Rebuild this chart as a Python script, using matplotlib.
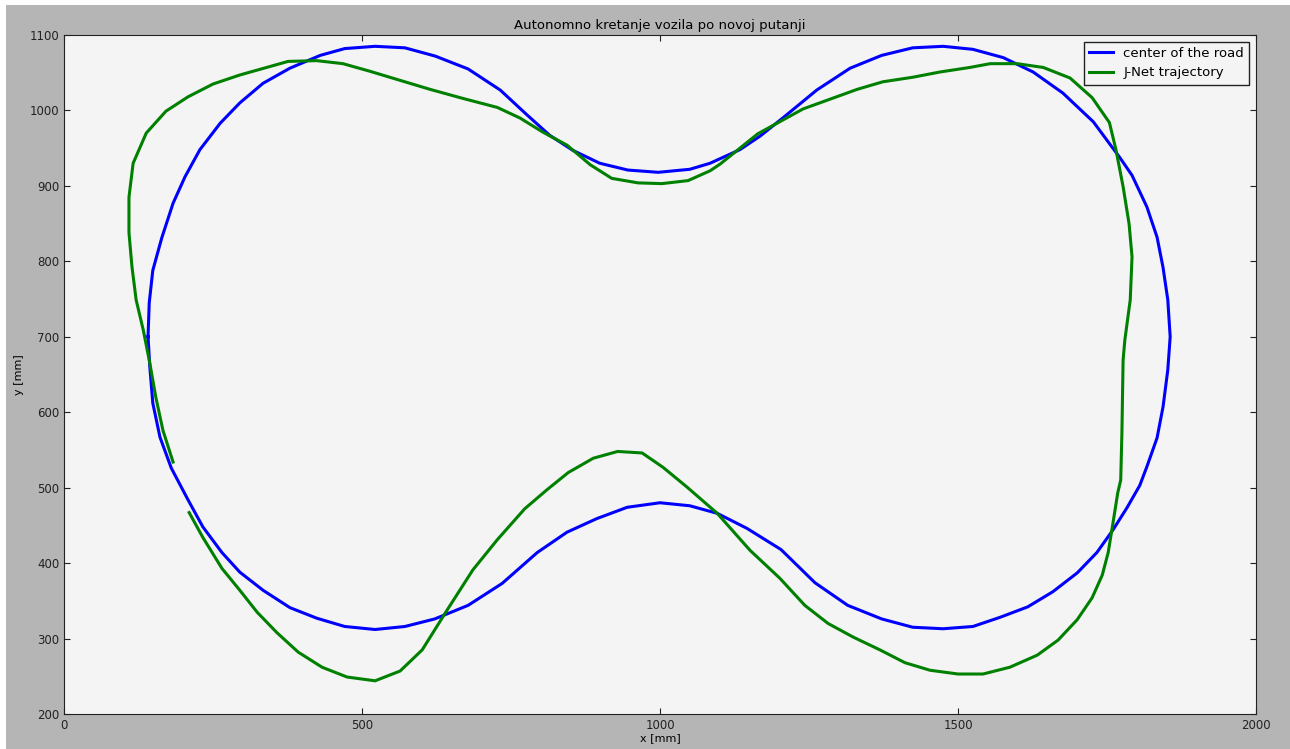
import matplotlib
matplotlib.use('Agg')
import matplotlib.pyplot as plt
from matplotlib.patches import Rectangle

# center of the road (closed loop), mm
road_x = [141, 143, 149, 164, 183, 203, 228, 262, 295, 334, 379, 430, 471, 522, 572, 623,
          678, 732, 777, 815, 854, 899, 946, 997, 1050, 1084, 1134, 1168, 1206, 1263, 1319,
          1372, 1424, 1475, 1525, 1576, 1626, 1676, 1727, 1772, 1792, 1817, 1834, 1844, 1852,
          1856, 1852, 1844, 1834, 1817, 1805, 1784, 1760, 1733, 1700, 1659, 1617, 1570, 1525,
          1475, 1424, 1372, 1315, 1260, 1203, 1146, 1096, 1050, 1000, 945, 894, 844, 794, 735,
          678, 622, 572, 522, 471, 424, 379, 334, 295, 265, 233, 208, 180, 161, 149, 144, 141]
road_y = [700, 745, 788, 831, 877, 912, 948, 983, 1010, 1036, 1056, 1073, 1082, 1085, 1083, 1072,
          1055, 1027, 994, 967, 947, 930, 921, 918, 922, 930, 948, 966, 990, 1027, 1056,
          1073, 1083, 1085, 1081, 1070, 1051, 1023, 985, 937, 914, 872, 832, 792, 749,
          700, 656, 607, 566, 528, 503, 474, 444, 414, 387, 362, 342, 328, 316,
          313, 315, 326, 344, 374, 418, 446, 466, 476, 480, 474, 459, 441, 414, 373,
          344, 326, 316, 312, 316, 327, 341, 364, 388, 414, 448, 484, 526, 567, 612, 660, 700]

# J-Net trajectory, mm
jnet_x = [210, 233, 265, 295, 324, 357, 393, 433, 475, 522, 564, 601, 643, 686, 727, 773, 810,
          846, 888, 929, 970, 1005, 1045, 1096, 1151, 1201, 1243, 1282, 1324, 1369, 1411, 1453,
          1500, 1542, 1587, 1633, 1668, 1700, 1725, 1742, 1752, 1760, 1768, 1773, 1775, 1777,
          1780, 1789, 1792, 1787, 1777, 1765, 1754, 1725, 1688, 1643, 1599, 1554, 1520, 1470,
          1424, 1374, 1331, 1240, 1164, 1101, 1084, 1047, 1003, 963, 919, 883, 844, 804, 765,
          727, 669, 614, 555, 513, 468, 424, 376, 340, 295, 250, 208, 171, 138, 116, 109, 109,
          114, 121, 133, 144, 154, 166, 183]
jnet_y = [467, 434, 393, 364, 335, 308, 282, 262, 249, 244, 257, 285, 338, 391, 431, 472, 497,
          520, 539, 548, 546, 527, 501, 466, 417, 380, 344, 320, 302, 285, 268, 258,
          253, 253, 262, 278, 298, 325, 354, 384, 414, 453, 493, 510, 572, 669,
          696, 749, 806, 850, 899, 948, 984, 1017, 1043, 1057, 1062, 1062, 1057, 1051,
          1044, 1038, 1028, 1002, 969, 929, 920, 907, 903, 904, 910, 928, 954, 971, 990,
          1004, 1016, 1028, 1042, 1052, 1062, 1066, 1065, 1057, 1047, 1035, 1018, 999, 970, 930, 885, 838,
          793, 749, 709, 665, 620, 576, 534]

fig = plt.figure(figsize=(12.9, 7.49), dpi=100, facecolor='white')
fig.add_artist(Rectangle((6 / 1290, 0), 1, 744 / 749, transform=fig.transFigure,
                         facecolor='#b5b5b5', edgecolor='none', zorder=-10))

ax = fig.add_axes([64 / 1290, 35 / 749, 1192 / 1290, 679 / 749])
ax.set_facecolor('#f4f4f4')

ax.plot(road_x, road_y, color='b', lw=2.2, label='center of the road')
ax.plot(jnet_x, jnet_y, color='g', lw=2.2, label='J-Net trajectory')

ax.set_xlim(0, 2000)
ax.set_ylim(200, 1100)
ax.set_xticks(range(0, 2001, 500))
ax.set_yticks(range(200, 1101, 100))
ax.tick_params(direction='in', top=True, right=True, labelsize=8.5, length=4, colors='#222222')
for spine in ax.spines.values():
    spine.set_color('#222222')

ax.set_title('Autonomno kretanje vozila po novoj putanji', fontsize=9.5, pad=4)
ax.set_xlabel('x [mm]', fontsize=8, labelpad=1)
ax.set_ylabel('y [mm]', fontsize=8, labelpad=4)

leg = ax.legend(loc='upper right', fontsize=9.5, fancybox=False, framealpha=1,
                edgecolor='#222222', handlelength=1.8, borderaxespad=0.5)
leg.get_frame().set_facecolor('#f4f4f4')

fig.savefig('out.png', dpi=100, facecolor=fig.get_facecolor())
